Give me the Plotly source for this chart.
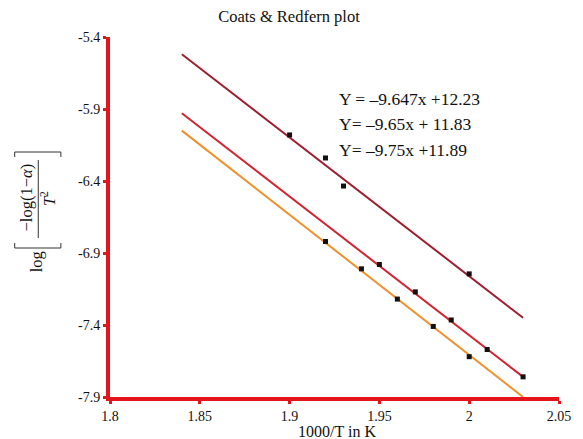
import plotly.graph_objects as go

# ---------------- data ----------------
x_ticks = [1.8, 1.85, 1.9, 1.95, 2.0, 2.05]
x_ticktext = ["1.8", "1.85", "1.9", "1.95", "2", "2.05"]
y_ticks = [-7.9, -7.4, -6.9, -6.4, -5.9, -5.4]
y_ticktext = ["-7.9", "-7.4", "-6.9", "-6.4", "-5.9", "-5.4"]

# fitted lines (end points)
fit_x = [1.84, 2.03]
fit1_y = [-5.52, -7.35]   # Y = -9.647x + 12.23
fit2_y = [-5.93, -7.76]   # Y = -9.65x + 11.83
fit3_y = [-6.05, -7.90]   # Y = -9.75x + 11.89

# measured points
pts1_x = [1.90, 1.92, 1.93, 2.00]
pts1_y = [-6.08, -6.24, -6.435, -7.045]
pts2_x = [1.95, 1.97, 1.99, 2.01, 2.03]
pts2_y = [-6.98, -7.17, -7.365, -7.57, -7.76]
pts3_x = [1.92, 1.94, 1.96, 1.98, 2.00]
pts3_y = [-6.82, -7.01, -7.22, -7.41, -7.62]

equations = ["Y = \u20139.647x +12.23", "Y= \u20139.65x + 11.83", "Y= \u20139.75x +11.89"]

# ---------------- layout helpers ----------------
OFF = 8                      # page body margin
W, H = 583 - OFF, 439 - OFF  # figure size
PL, PR, PT, PB = 110, 567, 37, 397   # plot area in window pixels
PW, PH = PR - PL, PB - PT
L, T = PL - OFF, PT - OFF
R, B = W - (PR - OFF), H - (PB - OFF)


def px(x):
    return (x - PL) / PW


def py(y):
    return (PB - y) / PH


SERIF = "Liberation Serif"
AX_RED = "#E5141B"
C1 = "#9E1E2E"
C2 = "#D2232F"
C3 = "#F0902C"
TXT = "#111111"

fig = go.Figure()
for fy, c in [(fit1_y, C1), (fit2_y, C2), (fit3_y, C3)]:
    fig.add_trace(go.Scatter(x=fit_x, y=fy, mode="lines",
                             line=dict(color=c, width=2), hoverinfo="skip"))
for xs, ys in [(pts1_x, pts1_y), (pts2_x, pts2_y), (pts3_x, pts3_y)]:
    fig.add_trace(go.Scatter(x=xs, y=ys, mode="markers",
                             marker=dict(symbol="square", size=5, color=TXT,
                                         line=dict(width=0))))

annotations = []
for txt, yy in zip(equations, [99, 124, 150]):
    annotations.append(dict(text=txt, x=px(341), y=py(yy), xref="paper", yref="paper",
                            xanchor="left", yanchor="middle", showarrow=False,
                            font=dict(family=SERIF, size=17.5, color=TXT)))
annotations.append(dict(text="1000/T in K", x=px(341), y=py(431.5), xref="paper", yref="paper",
                        xanchor="center", yanchor="middle", showarrow=False,
                        font=dict(family=SERIF, size=16, color=TXT)))
annotations.append(dict(text="\u2212log(1\u2212<i>\u03b1</i>)", x=px(25), y=py(197),
                        xref="paper", yref="paper", xanchor="center", yanchor="middle",
                        textangle=-90, showarrow=False,
                        font=dict(family=SERIF, size=16.5, color=TXT)))
annotations.append(dict(text="<i>T</i><sup>2</sup>", x=px(48), y=py(199),
                        xref="paper", yref="paper", xanchor="center", yanchor="middle",
                        textangle=-90, showarrow=False,
                        font=dict(family=SERIF, size=16.5, color=TXT)))
annotations.append(dict(text="log", x=px(35), y=py(262),
                        xref="paper", yref="paper", xanchor="center", yanchor="middle",
                        textangle=-90, showarrow=False,
                        font=dict(family=SERIF, size=16.5, color=TXT)))

shapes = []
lc = dict(color="#333333", width=1)
shapes.append(dict(type="line", xref="paper", yref="paper", x0=px(37), x1=px(37),
                   y0=py(160), y1=py(238), line=lc))
for yb, d in [(152, 5), (248, -5)]:
    shapes.append(dict(type="line", xref="paper", yref="paper", x0=px(13), x1=px(60),
                       y0=py(yb), y1=py(yb), line=lc))
    for xb in (13, 60):
        shapes.append(dict(type="line", xref="paper", yref="paper", x0=px(xb), x1=px(xb),
                           y0=py(yb), y1=py(yb + d), line=lc))

fig.update_layout(
    width=W, height=H,
    margin=dict(l=L, r=R, t=T, b=B),
    paper_bgcolor="white", plot_bgcolor="white",
    showlegend=False,
    title=dict(text="Coats &amp; Redfern plot", x=(289 - OFF) / W, xanchor="center",
               y=1 - (16 - OFF) / H, yanchor="middle",
               font=dict(family=SERIF, size=16.5, color=TXT)),
    xaxis=dict(range=[1.8, 2.05], tickvals=x_ticks, ticktext=x_ticktext,
               showgrid=False, zeroline=False, showline=True, linecolor=AX_RED,
               linewidth=4, ticks="outside", ticklen=3, tickwidth=3, tickcolor=AX_RED,
               tickfont=dict(family=SERIF, size=14, color=TXT)),
    yaxis=dict(range=[-7.9, -5.4], tickvals=y_ticks, ticktext=y_ticktext,
               showgrid=False, zeroline=False, showline=True, linecolor=AX_RED,
               linewidth=4, ticks="outside", ticklen=3, tickwidth=3, tickcolor=AX_RED,
               tickfont=dict(family=SERIF, size=14, color=TXT)),
    annotations=annotations,
    shapes=shapes,
)

fig.write_html("out.html")
